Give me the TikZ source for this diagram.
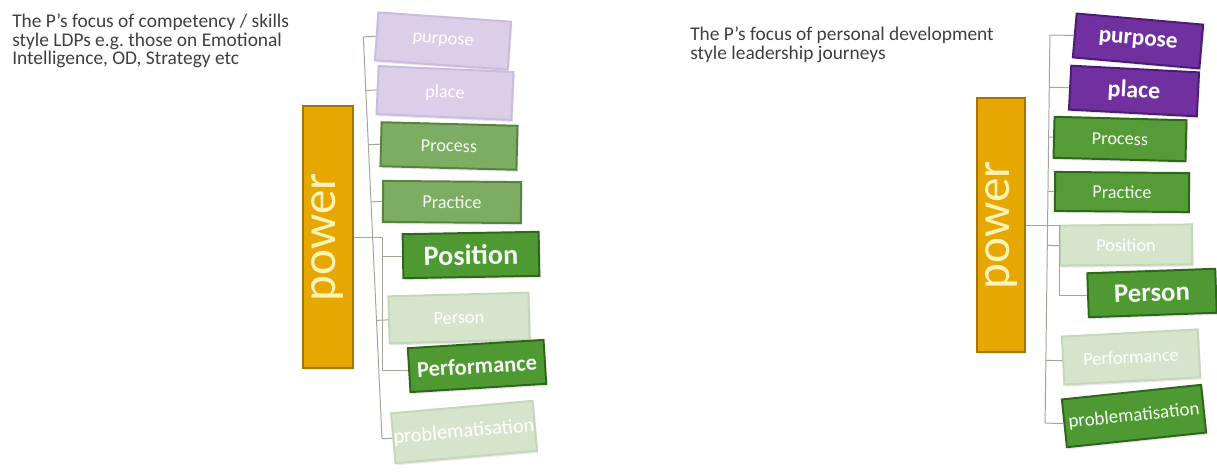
\documentclass[tikz,border=0pt]{standalone}
\usepackage{fontspec}
\setmainfont{Carlito}
\usetikzlibrary{calc,shadows}
\frenchspacing

\definecolor{gold}{HTML}{E6A700}
\definecolor{golddark}{HTML}{A87400}
\definecolor{goldtext}{HTML}{FFF2B5}
\definecolor{violet}{HTML}{7030A0}
\definecolor{violetdark}{HTML}{4C1C72}
\definecolor{violetpale}{HTML}{DACEE9}
\definecolor{violetrim}{HTML}{CBBBDF}
\definecolor{leaf}{HTML}{4E9932}
\definecolor{leafdark}{HTML}{2E661B}
\definecolor{moss}{HTML}{7DAD62}
\definecolor{mossdark}{HTML}{58833F}
\definecolor{mint}{HTML}{D6E4CC}
\definecolor{mintrim}{HTML}{C4D7B7}
\definecolor{twig}{HTML}{A3A596}
\definecolor{note}{HTML}{3F3F3F}

\begin{document}
\begin{tikzpicture}[x=0.025cm,y=-0.025cm,
  size/.style 2 args={minimum width=#1*0.025cm,minimum height=#2*0.025cm},
  box/.style={rectangle,line width=1.4pt,inner sep=0pt,
    drop shadow={opacity=0.18,shadow xshift=1pt,shadow yshift=-1.5pt}},
  paleviolet/.style={box,draw=violetrim,fill=violetpale,text=white},
  deepviolet/.style={box,draw=violetdark,fill=violet,text=white},
  palegreen/.style={box,draw=mintrim,fill=mint,text=white},
  midgreen/.style={box,draw=mossdark,fill=moss,text=white!92!moss},
  deepgreen/.style={box,draw=leafdark,fill=leaf,text=white!95!leaf},
  powerbar/.style={box,draw=golddark,fill=gold,text=goldtext,rotate=90,
    font=\fontsize{35}{40}\selectfont},
  plain/.style={font=\fontsize{13}{15}\selectfont},
  big/.style={font=\fontsize{#1}{#1}\selectfont\bfseries},
  heading/.style={align=left,inner sep=0pt,text=note,
    font=\fontsize{13.8}{13}\selectfont},
  link/.style={draw=twig,line width=0.7pt}]
\useasboundingbox (0,0) rectangle (1217,474);

% captions
\node[heading,anchor=north west] (capL) at (12,14)
  {The P’s focus of competency / skills\\style LDPs e.g. those on Emotional\\Intelligence, OD, Strategy etc};
\node[heading,anchor=north west] (capR) at (690,27)
  {The P’s focus of personal development\\style leadership journeys};

% competency tree
\node[powerbar,size={262}{50}] (powL) at (328,237) {power};
\node[paleviolet,plain,size={133}{48},rotate=-4] (purL) at (443,41) {purpose};
\node[paleviolet,plain,size={135}{48},rotate=-2.5] (plaL) at (445,93) {place};
\node[midgreen,plain,size={136}{44},rotate=-1.5] (proL) at (449,146) {Process};
\node[midgreen,plain,size={138}{41},rotate=-0.5] (praL) at (452,202) {Practice};
\node[deepgreen,big=20,size={136}{44},rotate=1] (posL) at (471,255) {Position};
\node[palegreen,plain,size={140}{47},rotate=1.5] (perL) at (459,318) {Person};
\node[deepgreen,big=16,size={136}{44},rotate=3.5] (pfmL) at (477,366) {Performance};
\node[palegreen,font=\fontsize{14.5}{16}\selectfont,size={142}{50},rotate=5] (prbL) at (464,432) {problematisation};

\coordinate (tTopL) at (363,30);
\coordinate (tBotL) at (383,460);
\coordinate (brL) at (382,0);
\path[link] ($(tTopL)!(purL.west)!(tBotL)$) -- ($(tTopL)!(prbL.west)!(tBotL)$);
\foreach \b in {purL,plaL,proL,praL,perL,prbL}
  \path[link] ($(tTopL)!(\b.west)!(tBotL)$) -- (\b.west);
\path[link] (powL.south) -- (brL |- powL.south) -- (brL |- pfmL.west) -- (pfmL.west);
\path[link] (brL |- posL.west) -- (posL.west);

% development tree
\node[powerbar,size={254}{48}] (powR) at (1001,225) {power};
\node[deepviolet,big=16.5,size={127}{44},rotate=-5] (purR) at (1138,41) {purpose};
\node[deepviolet,big=17,size={128}{44},rotate=-3] (plaR) at (1134,91) {place};
\node[midgreen,plain,size={132}{41},rotate=-1.5,fill=leaf!85!moss,draw=leafdark] (proR) at (1120,139) {Process};
\node[midgreen,plain,size={134}{39},rotate=-0.5,fill=leaf!85!moss,draw=leafdark] (praR) at (1122,192) {Practice};
\node[palegreen,plain,size={132}{40},rotate=0.5] (posR) at (1126,245) {Position};
\node[deepgreen,big=19,size={128}{44},rotate=2] (perR) at (1152,293) {Person};
\node[palegreen,plain,size={136}{48},rotate=3] (pfmR) at (1131,357) {Performance};
\node[deepgreen,font=\fontsize{13.5}{15}\selectfont,size={140}{48},rotate=6] (prbR) at (1134,416) {problematisation};

\coordinate (tTopR) at (1050,28);
\coordinate (tBotR) at (1045,430);
\coordinate (brR) at (1059,0);
\path[link] ($(tTopR)!(purR.west)!(tBotR)$) -- ($(tTopR)!(prbR.west)!(tBotR)$);
\foreach \b in {purR,plaR,proR,praR,posR,pfmR,prbR}
  \path[link] ($(tTopR)!(\b.west)!(tBotR)$) -- (\b.west);
\path[link] (powR.south) -- (brR |- powR.south) -- (brR |- perR.west) -- (perR.west);
\end{tikzpicture}
\end{document}
